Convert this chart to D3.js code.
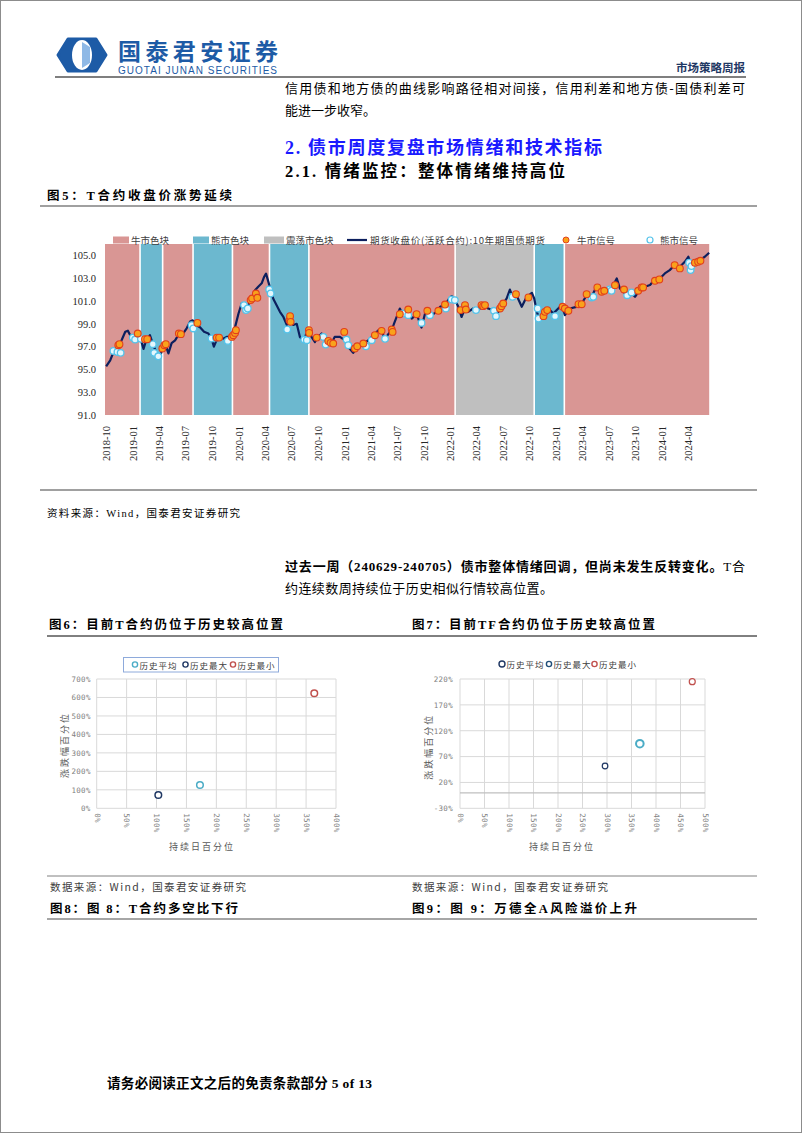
<!DOCTYPE html>
<html><head><meta charset="utf-8">
<script src="https://cdn.jsdelivr.net/npm/d3@7"></script>
<style>body{margin:0;background:#fff}svg{display:block}</style>
</head><body><svg id="page" width="802" height="1133"></svg>
<script>
// ---------------- DATA ----------------
const lineDates = ["2018-10-01","2018-10-15","2018-10-26","2018-11-12","2018-11-24","2018-12-06","2018-12-15","2018-12-23","2019-01-03","2019-01-17","2019-01-26","2019-02-07","2019-02-16","2019-03-01","2019-03-13","2019-03-25","2019-04-05","2019-04-12","2019-04-22","2019-05-04","2019-05-15","2019-05-27","2019-06-07","2019-06-24","2019-07-06","2019-07-18","2019-07-27","2019-08-07","2019-08-21","2019-09-04","2019-09-19","2019-09-30","2019-10-08","2019-10-17","2019-10-29","2019-11-09","2019-11-21","2019-12-02","2019-12-11","2019-12-19","2020-01-01","2020-01-12","2020-01-23","2020-01-29","2020-02-10","2020-02-19","2020-02-27","2020-03-09","2020-03-21","2020-03-29","2020-04-05","2020-04-13","2020-04-21","2020-04-30","2020-05-12","2020-05-23","2020-06-04","2020-06-16","2020-06-27","2020-07-08","2020-07-20","2020-07-31","2020-08-11","2020-08-23","2020-09-01","2020-09-09","2020-09-21","2020-10-02","2020-10-14","2020-10-25","2020-11-05","2020-11-17","2020-11-28","2020-12-16","2021-01-03","2021-01-14","2021-01-31","2021-02-18","2021-03-07","2021-03-24","2021-04-10","2021-04-28","2021-05-09","2021-05-21","2021-06-07","2021-06-19","2021-06-30","2021-07-11","2021-07-23","2021-08-03","2021-08-21","2021-09-07","2021-09-24","2021-10-06","2021-10-17","2021-10-29","2021-11-15","2021-11-27","2021-12-14","2021-12-26","2022-01-06","2022-01-17","2022-01-29","2022-02-09","2022-02-21","2022-03-04","2022-03-21","2022-04-08","2022-04-25","2022-05-12","2022-05-29","2022-06-10","2022-06-22","2022-07-03","2022-07-15","2022-07-26","2022-08-07","2022-08-18","2022-09-05","2022-09-22","2022-10-10","2022-10-18","2022-10-27","2022-11-07","2022-11-19","2022-12-06","2022-12-23","2023-01-09","2023-01-21","2023-02-01","2023-02-18","2023-03-13","2023-03-31","2023-04-17","2023-05-04","2023-05-21","2023-06-08","2023-06-25","2023-07-12","2023-07-30","2023-08-10","2023-08-27","2023-09-13","2023-10-01","2023-10-18","2023-11-04","2023-11-22","2023-12-09","2023-12-26","2024-01-12","2024-01-29","2024-02-15","2024-03-04","2024-03-21","2024-04-02","2024-04-13","2024-04-25","2024-05-12","2024-05-29","2024-06-13"];
const lineValues = [95.27,95.8,96.5,97.0,97.6,98.3,98.4,98.0,97.85,98.15,97.85,96.8,97.55,98.0,97.1,96.4,96.1,96.7,97.3,96.4,97.3,97.55,98.0,98.15,98.6,99.2,99.3,98.9,98.7,98.3,98.15,97.7,97.0,97.55,97.85,97.7,97.85,97.85,98.0,98.6,99.9,100.8,100.6,100.2,101.1,101.4,101.95,102.25,102.55,103.1,103.4,102.7,101.95,101.2,100.6,100.05,99.6,98.9,99.5,98.9,99.0,97.85,97.55,98.15,98.4,97.85,97.4,97.85,98.15,97.55,97.4,97.25,97.85,97.85,97.55,96.97,96.45,96.97,97.27,97.55,98.0,98.44,98.3,97.7,98.3,98.88,99.6,100.34,99.76,100.05,99.46,99.84,98.67,99.9,100.05,99.76,100.05,100.49,100.64,101.13,101.43,101.13,100.49,99.6,100.34,100.05,100.34,100.2,100.64,100.34,100.2,99.76,100.34,100.78,101.22,102.0,101.22,101.5,100.49,101.37,101.72,101.22,100.05,99.32,99.76,100.34,99.9,100.34,100.64,99.76,100.34,100.49,100.78,101.5,101.37,102.25,101.95,102.1,102.1,102.98,102.1,101.66,101.8,101.37,102.0,102.25,102.4,102.9,102.98,103.42,103.71,104.15,104.0,104.44,104.88,104.15,104.44,104.59,104.88,105.23];

const bullSignalDates = ["2018-11-12","2018-11-16","2019-01-18","2019-02-12","2019-02-20","2019-04-13","2019-04-20","2019-04-25","2019-06-09","2019-06-16","2019-08-12","2019-10-18","2019-10-26","2019-12-09","2019-12-14","2019-12-20","2019-12-23","2020-02-12","2020-02-17","2020-03-01","2020-03-06","2020-06-25","2020-06-27","2020-06-29","2020-08-31","2020-09-01","2020-09-27","2020-11-06","2020-11-14","2020-11-23","2020-12-31","2021-02-06","2021-02-14","2021-03-07","2021-04-16","2021-05-09","2021-06-13","2021-06-16","2021-07-11","2021-08-09","2021-09-07","2021-10-14","2021-11-21","2021-12-14","2022-02-06","2022-02-21","2022-02-24","2022-04-19","2022-04-25","2022-05-01","2022-06-22","2022-06-27","2022-07-03","2022-08-16","2022-09-28","2022-11-19","2022-11-24","2022-12-02","2023-01-24","2023-02-01","2023-02-13","2023-03-20","2023-03-31","2023-04-17","2023-05-24","2023-06-08","2023-06-17","2023-07-24","2023-08-24","2023-10-12","2023-10-24","2023-10-29","2023-12-09","2023-12-24","2024-02-15","2024-03-04","2024-04-25","2024-05-06","2024-05-14"];
const bullSignalValues = [97.12,97.21,98.15,97.65,97.65,96.83,97.12,97.21,98.15,98.09,99.08,97.79,97.79,97.85,98.0,98.2,98.44,101.08,101.22,101.66,101.28,99.32,99.67,99.17,98.44,98.2,97.79,97.5,97.33,97.27,98.29,96.83,97.03,97.27,98.0,98.38,98.5,98.29,99.84,100.25,99.84,100.14,100.14,100.69,100.2,100.64,100.25,100.64,100.55,100.64,100.34,100.55,100.78,101.6,101.31,99.67,100.05,100.2,100.49,100.34,100.14,100.72,100.72,101.6,102.19,101.81,101.9,102.39,102.01,101.9,102.19,102.19,102.77,102.89,104.15,103.86,104.36,104.44,104.53];

const bearSignalDates = ["2018-10-26","2018-11-09","2018-11-20","2019-01-01","2019-01-09","2019-01-29","2019-03-11","2019-03-16","2019-03-30","2019-07-23","2019-07-29","2019-09-30","2019-10-15","2019-11-25","2020-01-20","2020-01-27","2020-02-02","2020-04-16","2020-04-21","2020-06-17","2020-08-15","2020-08-24","2020-10-20","2020-10-28","2021-01-08","2021-01-14","2021-03-16","2021-04-05","2021-05-21","2021-07-23","2021-08-09","2021-09-24","2021-10-23","2021-12-17","2022-01-06","2022-01-17","2022-03-31","2022-06-01","2022-06-08","2022-08-04","2022-10-30","2022-11-02","2022-12-29","2023-05-04","2023-05-10","2023-07-06","2023-07-12","2023-09-04","2023-09-19","2024-04-05","2024-04-10","2024-04-13"];
const bearSignalValues = [96.62,96.53,96.45,97.79,97.62,97.68,97.21,96.45,96.15,98.88,98.59,97.71,97.79,97.5,100.64,100.2,100.34,102.01,101.66,98.5,97.62,97.56,97.85,97.18,97.62,97.12,97.03,97.56,97.68,99.9,99.76,99.08,99.76,100.34,101.13,101.08,100.2,100.14,99.67,101.37,100.34,99.46,99.67,101.31,101.37,102.01,101.9,101.51,101.75,104.36,103.71,104.06];

const bandStarts = ["2018-09-27","2019-01-26","2019-04-14","2019-07-28","2019-12-11","2020-04-17","2020-08-31","2022-01-18","2022-10-18","2023-01-30"];
const bandEnds   = ["2019-01-26","2019-04-14","2019-07-28","2019-12-11","2020-04-17","2020-08-31","2022-01-18","2022-10-18","2023-01-30","2024-06-16"];
const bandTypes  = ["bull","bear","bull","bear","bull","bear","bull","range","bear","bull"];

const mainYTicks = [91,93,95,97,99,101,103,105];
const mainXTickLabels = ["2018-10","2019-01","2019-04","2019-07","2019-10","2020-01","2020-04","2020-07","2020-10","2021-01","2021-04","2021-07","2021-10","2022-01","2022-04","2022-07","2022-10","2023-01","2023-04","2023-07","2023-10","2024-01","2024-04"];
const mainLegendLabels = ["牛市色块","熊市色块","震荡市色块","期货收盘价(活跃合约):10年期国债期货","牛市信号","熊市信号"];

// Fig 6
const fig6Series = ["历史平均","历史最大","历史最小"];
const fig6X = [172.6,103,363.7];
const fig6Y = [126,72,622.6];
const fig6XTicks = [0,50,100,150,200,250,300,350,400];
const fig6YTicks = [0,100,200,300,400,500,600,700];
// Fig 7
const fig7Series = ["历史平均","历史最大","历史最小"];
const fig7X = [296,367,474];
const fig7Y = [51.8,94.9,214.8];
const fig7XTicks = [0,50,100,150,200,250,300,350,400,450,500];
const fig7YTicks = [-30,20,70,120,170,220];

// ---------------- DRAW ----------------
const svg = d3.select("#page");
const CJK = "'Noto Sans CJK SC','Noto Sans',sans-serif";
const SERIF = "'Liberation Serif','Noto Sans CJK SC',serif";
const parse = d3.timeParse("%Y-%m-%d");

svg.append("rect").attr("x",0.5).attr("y",0.5).attr("width",801).attr("height",1132)
  .attr("fill","#fff").attr("stroke","#8c8c8c").attr("stroke-width",1);

function txt(x,y,s,o={}){
  const t = svg.append("text").attr("x",x).attr("y",y).text(s)
    .attr("font-family",o.ff||SERIF).attr("font-size",o.fs||13)
    .attr("font-weight",o.fw||400).attr("fill",o.fill||"#000")
    .attr("dominant-baseline","central");
  if(o.tl) t.attr("textLength",o.tl).attr("lengthAdjust","spacing");
  if(o.anchor) t.attr("text-anchor",o.anchor);
  return t;
}
function hline(x1,x2,y,c,w){svg.append("line").attr("x1",x1).attr("x2",x2).attr("y1",y).attr("y2",y).attr("stroke",c).attr("stroke-width",w);}

// Header / logo
const logo = svg.append("g");
logo.append("path").attr("d","M68,39 L96,39 L106,55 L96,71 L68,71 L58,55 Z").attr("fill","#1d5ba6").attr("stroke","#1d5ba6").attr("stroke-width",3).attr("stroke-linejoin","round");
logo.append("ellipse").attr("cx",82).attr("cy",55).attr("rx",10).attr("ry",15).attr("fill","#fff");
logo.append("path").attr("d","M82,42 L90,47 L90,63 L82,68 Z").attr("fill","#8fb9e6");
txt(118,49.5,"国泰君安证券",{ff:CJK,fs:23,fw:700,fill:"#1d5ba6",tl:160});
txt(118,70.5,"GUOTAI JUNAN SECURITIES",{ff:"'Liberation Sans',sans-serif",fs:10,fill:"#1d5ba6",tl:159});
txt(745,67,"市场策略周报",{ff:CJK,fs:11.5,fw:700,fill:"#1f3864",anchor:"end"});
hline(55,746,77,"#000",1.2);
txt(285,87,"信用债和地方债的曲线影响路径相对间接，信用利差和地方债-国债利差可",{ff:CJK,fs:13,tl:460});
txt(285,109,"能进一步收窄。",{ff:CJK,fs:13});
txt(285,148,"2.  债市周度复盘市场情绪和技术指标",{fs:18,fw:700,fill:"#1a1aff",tl:317});
txt(285,171,"2.1.  情绪监控：整体情绪维持高位",{fs:16.5,fw:700,tl:280});
txt(47,196,"图5：T合约收盘价涨势延续",{fs:12.5,fw:700,tl:185});
hline(40,757,206,"#808080",1.5);

// ---- Main chart ----
const x = d3.scaleTime().domain([parse("2018-09-27"),parse("2024-06-16")]).range([105,710]);
const y = d3.scaleLinear().domain([91,106]).range([415,244]);
const bandColor = {bull:"#d99694",bear:"#6cb8cf",range:"#bfbfbf"};
const bands = bandTypes.map((t,i)=>({t,s:parse(bandStarts[i]),e:parse(bandEnds[i])}));
svg.append("g").selectAll("rect").data(bands).join("rect")
  .attr("x",(d,i)=>x(d.s)+(i?0.8:0)).attr("width",(d,i)=>x(d.e)-x(d.s)-(i?1.6:0.8))
  .attr("y",y(106)).attr("height",y(91)-y(106)).attr("fill",d=>bandColor[d.t]);

const yAx = svg.append("g").attr("transform","translate(105,0)")
  .call(d3.axisLeft(y).tickValues(mainYTicks).tickFormat(d3.format(".1f")).tickSize(0).tickPadding(9));
yAx.select(".domain").remove();
yAx.selectAll("text").attr("font-family",SERIF).attr("font-size",10.5).attr("fill","#262626");

const xTickDates = mainXTickLabels.map(s=>parse(s+"-01"));
const xAx = svg.append("g").attr("transform","translate(0,415)")
  .call(d3.axisBottom(x).tickValues(xTickDates).tickFormat(d3.timeFormat("%Y-%m")).tickSize(0));
xAx.select(".domain").remove();
xAx.selectAll("text").attr("font-family",SERIF).attr("font-size",10.5).attr("fill","#262626")
  .attr("text-anchor","end").attr("transform","rotate(-90)").attr("x",-11).attr("y",0).attr("dy","0.35em");

const lineData = lineDates.map((d,i)=>({d:parse(d),v:lineValues[i]}));
svg.append("path").datum(lineData).attr("fill","none").attr("stroke","#0c1f5e").attr("stroke-width",2.2)
  .attr("stroke-linejoin","round")
  .attr("d",d3.line().x(d=>x(d.d)).y(d=>y(d.v)));

const bull = bullSignalDates.map((d,i)=>({d:parse(d),v:bullSignalValues[i]}));
const bear = bearSignalDates.map((d,i)=>({d:parse(d),v:bearSignalValues[i]}));
svg.append("g").selectAll("circle").data(bear).join("circle")
  .attr("cx",d=>x(d.d)).attr("cy",d=>y(d.v)).attr("r",3.3)
  .attr("fill","#e4f7fd").attr("stroke","#55c3ea").attr("stroke-width",1.3);
svg.append("g").selectAll("circle").data(bull).join("circle")
  .attr("cx",d=>x(d.d)).attr("cy",d=>y(d.v)).attr("r",3.4)
  .attr("fill","#f9a21b").attr("stroke","#e2401c").attr("stroke-width",1.1);

// legend
const lg = svg.append("g").attr("font-family",CJK).attr("font-size",9.5).attr("fill","#404040");
const lgX = [113,193,264,347,566,650];
const lgKind = ["rect","rect","rect","line","bull","bear"];
const lgColor = [bandColor.bull,bandColor.bear,bandColor.range,"#0c1f5e",null,null];
mainLegendLabels.forEach((lab,i)=>{
  const k=lgKind[i], cy=240;
  let tx;
  if(k==="rect"){lg.append("rect").attr("x",lgX[i]).attr("y",cy-3.5).attr("width",i===2?20:16).attr("height",7).attr("fill",lgColor[i]); tx=lgX[i]+(i===2?22:18);}
  else if(k==="line"){lg.append("line").attr("x1",lgX[i]).attr("x2",lgX[i]+20).attr("y1",cy).attr("y2",cy).attr("stroke",lgColor[i]).attr("stroke-width",2.2); tx=lgX[i]+23;}
  else if(k==="bull"){lg.append("circle").attr("cx",lgX[i]).attr("cy",cy).attr("r",3).attr("fill","#f9a21b").attr("stroke","#e2401c"); tx=lgX[i]+11;}
  else {lg.append("circle").attr("cx",lgX[i]).attr("cy",cy).attr("r",3).attr("fill","#fff").attr("stroke","#55c3ea").attr("stroke-width",1.2); tx=lgX[i]+10;}
  lg.append("text").attr("x",tx).attr("y",cy).attr("dominant-baseline","central").text(lab)
    .attr("textLength", i===3?175:null);
});

hline(40,757,490,"#808080",1.5);
txt(47,513,"资料来源：Wind，国泰君安证券研究",{fs:10.5,tl:193});

// paragraph
const p = svg.append("text").attr("x",285).attr("y",566).attr("dominant-baseline","central")
  .attr("font-family",SERIF).attr("font-size",13).attr("textLength",460).attr("lengthAdjust","spacing");
p.append("tspan").attr("font-weight",700).text("过去一周（240629-240705）债市整体情绪回调，但尚未发生反转变化。");
p.append("tspan").text("T合");
txt(285,588,"约连续数周持续位于历史相似行情较高位置。",{fs:13,tl:268});

txt(49,625,"图6：目前T合约仍位于历史较高位置",{fs:12.5,fw:700,tl:234});
txt(412,625,"图7：目前TF合约仍位于历史较高位置",{fs:12.5,fw:700,tl:243});
hline(47,757,636,"#000",1);

// ---- scatter charts ----
function scatter(cfg){
  const g = svg.append("g");
  const sx = d3.scaleLinear().domain(cfg.xd).range(cfg.xr);
  const sy = d3.scaleLinear().domain(cfg.yd).range(cfg.yr);
  const tickFont = "'DejaVu Sans Mono','Liberation Mono',monospace";
  g.append("g").selectAll("line").data(cfg.xt).join("line")
    .attr("x1",d=>sx(d)).attr("x2",d=>sx(d)).attr("y1",cfg.yr[1]).attr("y2",cfg.yr[0])
    .attr("stroke","#d9d9d9").attr("stroke-width",1);
  g.append("g").selectAll("line").data(cfg.yt).join("line")
    .attr("x1",cfg.xr[0]).attr("x2",cfg.xr[1]).attr("y1",d=>sy(d)).attr("y2",d=>sy(d))
    .attr("stroke","#d9d9d9").attr("stroke-width",1);
  if(cfg.zeroLine) g.append("line").attr("x1",cfg.xr[0]).attr("x2",cfg.xr[1]).attr("y1",sy(0)).attr("y2",sy(0)).attr("stroke","#bfbfbf").attr("stroke-width",1.2);
  const ya = g.append("g").attr("transform",`translate(${cfg.xr[0]},0)`)
    .call(d3.axisLeft(sy).tickValues(cfg.yt).tickFormat(d=>d+"%").tickSize(0).tickPadding(cfg.ypad));
  ya.select(".domain").remove();
  ya.selectAll("text").attr("font-family",tickFont).attr("font-size",7.5).attr("fill","#7f7f7f").attr("letter-spacing",0.3);
  const xa = g.append("g").attr("transform",`translate(0,${cfg.yr[0]})`)
    .call(d3.axisBottom(sx).tickValues(cfg.xt).tickFormat(d=>d+"%").tickSize(0));
  xa.select(".domain").remove();
  xa.selectAll("text").attr("font-family",tickFont).attr("font-size",7.5).attr("fill","#7f7f7f")
    .attr("text-anchor","start").attr("transform","rotate(90)").attr("x",5).attr("y",0).attr("dy","0.35em").attr("letter-spacing",0.3);
  g.append("text").attr("x",cfg.xTitle[0]).attr("y",cfg.xTitle[1]).attr("text-anchor","middle").attr("dominant-baseline","central")
    .attr("font-family",CJK).attr("font-size",9).attr("fill","#595959").attr("letter-spacing",2).text("持续日百分位");
  g.append("text").attr("transform",`translate(${cfg.yTitle[0]},${cfg.yTitle[1]}) rotate(-90)`).attr("text-anchor","middle").attr("dominant-baseline","central")
    .attr("font-family",CJK).attr("font-size",9).attr("fill","#595959").attr("letter-spacing",2).text("涨跌幅百分位");
  const pts = cfg.series.map((s,i)=>({s,x:cfg.px[i],y:cfg.py[i],c:cfg.colors[i],r:cfg.radii[i],w:cfg.widths[i]}));
  g.append("g").selectAll("circle").data(pts).join("circle")
    .attr("cx",d=>sx(d.x)).attr("cy",d=>sy(d.y)).attr("r",d=>d.r)
    .attr("fill","#fff").attr("stroke",d=>d.c).attr("stroke-width",d=>d.w);
  if(cfg.legendBox) g.append("rect").attr("x",cfg.legendBox[0]).attr("y",cfg.legendBox[1]).attr("width",cfg.legendBox[2]).attr("height",cfg.legendBox[3])
    .attr("fill","#fff").attr("stroke","#8eaadb").attr("stroke-width",1);
  cfg.series.forEach((s,i)=>{
    const lx = cfg.legendX[i], ly = cfg.legendY;
    g.append("circle").attr("cx",lx).attr("cy",ly).attr("r",cfg.legendR[i]).attr("fill","#fff").attr("stroke",cfg.legendColors[i]).attr("stroke-width",1.4);
    g.append("text").attr("x",lx+4.5).attr("y",ly).attr("dominant-baseline","central").attr("font-family",CJK)
      .attr("font-size",8.5).attr("fill","#404040").attr("textLength",37).attr("lengthAdjust","spacing").text(s);
  });
}

scatter({xd:[0,400],yd:[0,700],xr:[96.7,336],yr:[808.3,679],xt:fig6XTicks,yt:fig6YTicks,ypad:6,
  xTitle:[202,846.7],yTitle:[64.5,745],series:fig6Series,px:fig6X,py:fig6Y,
  colors:["#4bacc6","#203864","#c0504d"],radii:[3.3,3.3,3.3],widths:[1.5,1.5,1.5],
  legendBox:[123.5,657.5,155,14.5],legendX:[135,185.5,233],legendY:664.5,legendR:[2.6,2.6,2.6],
  legendColors:["#4bacc6","#203864","#c0504d"]});

scatter({xd:[0,500],yd:[-30,220],xr:[460,705],yr:[808.3,679],xt:fig7XTicks,yt:fig7YTicks,ypad:7,zeroLine:true,
  xTitle:[562,846.7],yTitle:[428.5,746.7],series:fig7Series,px:fig7X,py:fig7Y,
  colors:["#203864","#4bacc6","#c0504d"],radii:[2.8,3.8,3],widths:[1.2,2,1.2],
  legendX:[502,549,594.5],legendY:664,legendR:[3,2.6,2.6],
  legendColors:["#203864","#1f4e79","#c0504d"]});

hline(47,757,876,"#808080",1);
txt(50,886,"数据来源：Wind，国泰君安证券研究",{ff:CJK,fs:10.5,tl:196,fill:"#404040"});
txt(412,886,"数据来源：Wind，国泰君安证券研究",{ff:CJK,fs:10.5,tl:196,fill:"#404040"});
txt(50,909,"图8：图 8：T合约多空比下行",{fs:12.5,fw:700,tl:188});
txt(412,909,"图9：图 9：万德全A风险溢价上升",{fs:12.5,fw:700,tl:225});
hline(47,757,919,"#a6a6a6",2);

txt(107,1083,"请务必阅读正文之后的免责条款部分 5 of 13",{fs:13.5,fw:700,tl:265});
</script></body></html>
